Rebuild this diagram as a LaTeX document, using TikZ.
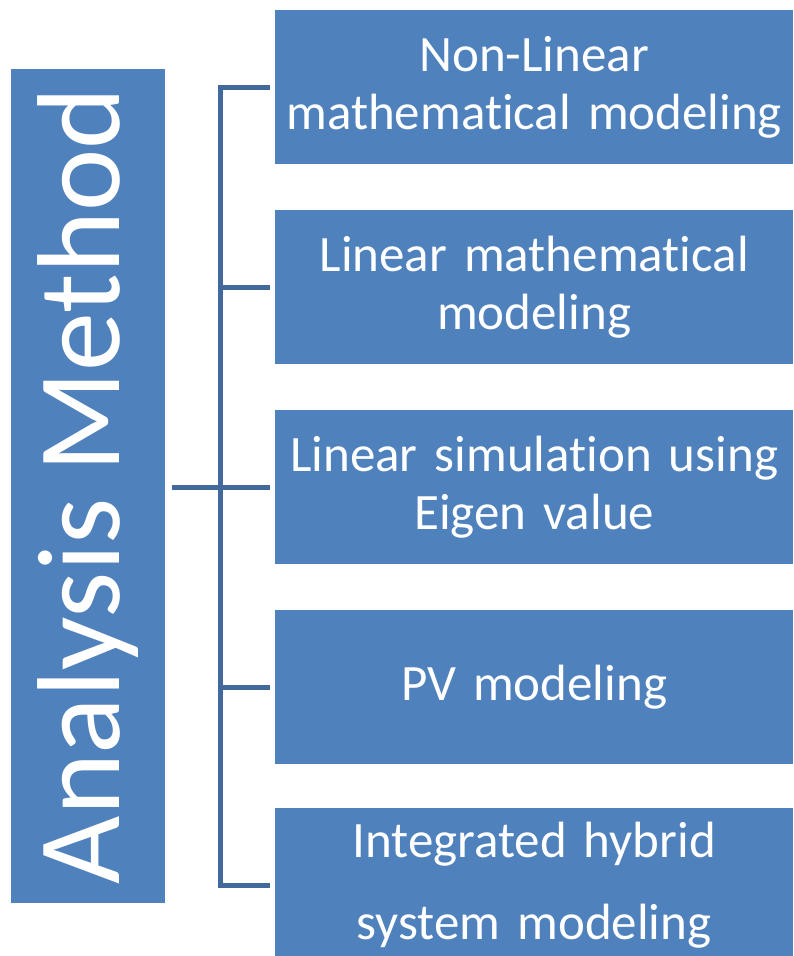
\documentclass[tikz,border=0pt]{standalone}
\usepackage{fontspec}
\setmainfont[Ligatures=CommonOff]{Carlito}
\definecolor{boxblue}{RGB}{79,129,189}
\definecolor{linkblue}{RGB}{65,105,155}
\tikzset{
  method/.style={fill=boxblue, text=white, inner sep=0pt, anchor=north west,
    minimum width=518pt, minimum height=154pt, text width=510pt, align=center,
    font=\fontsize{51}{58}\selectfont},
  bracket/.style={draw=linkblue, line width=5pt}
}
\begin{document}
\begin{tikzpicture}[x=1pt,y=-1pt]
    \useasboundingbox (0,0) rectangle (793,956);

    \node[fill=boxblue, text=white, inner sep=0pt, minimum width=834pt,
      minimum height=154pt, anchor=north west, rotate=90,
      font=\fontsize{118}{130}\selectfont] (am) at (11,903) {Analysis Method};

    \node[method] (nlin) at (275,10)  {Non-Linear\\mathematical modeling};
    \node[method] (lin)  at (275,210) {Linear mathematical\\modeling};
    \node[method] (sim)  at (275,410) {Linear simulation using\\Eigen value};
    \node[method] (pv)   at (275,610) {PV modeling};
    \node[method, font=\fontsize{51}{82}\selectfont] (hyb) at (275,808)
      {Integrated hybrid\\system modeling};

    \coordinate (hub) at (220,487);
    \draw[bracket] ([xshift=7pt]am.south |- hub) -- (hub);
    \draw[bracket] (hub) |- ([xshift=-5pt]nlin.west);
    \draw[bracket] (hub) |- ([xshift=-5pt]lin.west);
    \draw[bracket] (hub) |- ([xshift=-5pt]sim.west);
    \draw[bracket] (hub) |- ([xshift=-5pt]pv.west);
    \draw[bracket] (hub) |- ([xshift=-5pt]hyb.west);
\end{tikzpicture}
\end{document}
